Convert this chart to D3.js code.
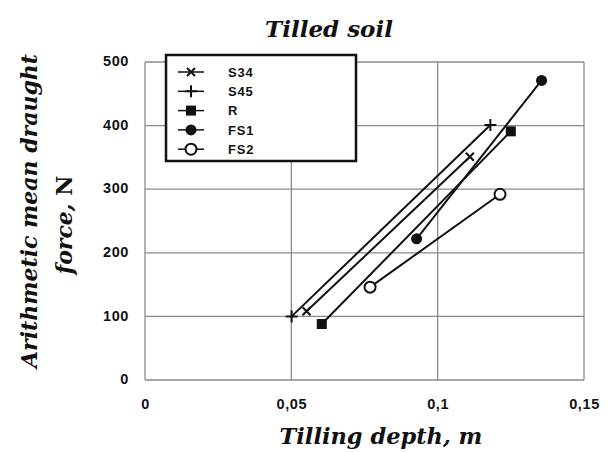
<!DOCTYPE html>
<html><head><meta charset="utf-8">
<script src="https://cdn.jsdelivr.net/npm/d3@7"></script>
<style>body{margin:0;background:#fff}svg{display:block}</style>
</head><body>
<script>
const xTicks = [0, 0.05, 0.1, 0.15];
const yTicks = [0, 100, 200, 300, 400, 500];
const seriesNames = ["S34", "S45", "R", "FS1", "FS2"];
const S34 = [[0.0552, 108], [0.111, 351]];
const S45 = [[0.0501, 100], [0.118, 401]];
const R   = [[0.0604, 88], [0.1250, 391]];
const FS1 = [[0.0928, 222], [0.1355, 471]];
const FS2 = [[0.0769, 146], [0.1213, 292]];
const seriesData = [S34, S45, R, FS1, FS2];
const symbols = ["x", "plus", "square", "dot", "ring"];

const W = 608, H = 452;
const svg = d3.select("body").append("svg").attr("width", W).attr("height", H);
const x = d3.scaleLinear().domain([0, 0.15]).range([145, 584]);
const y = d3.scaleLinear().domain([0, 500]).range([380, 62]);
const fmt = d => d === 0 ? "0" : String(d).replace(".", ",");

// grid
const g = svg.append("g");
g.selectAll("line.v").data(xTicks).join("line")
  .attr("x1", d => x(d)).attr("x2", d => x(d)).attr("y1", y(0)).attr("y2", y(500))
  .attr("stroke", "#8a8a8a").attr("stroke-width", 1.3);
g.selectAll("line.h").data(yTicks).join("line")
  .attr("y1", d => y(d)).attr("y2", d => y(d)).attr("x1", x(0)).attr("x2", x(0.15))
  .attr("stroke", "#8a8a8a").attr("stroke-width", 1.3);

// axes labels via d3 axes
const xAxis = svg.append("g").attr("transform", `translate(0,${y(0)})`)
  .call(d3.axisBottom(x).tickValues(xTicks).tickFormat(fmt).tickSize(0).tickPadding(19));
const yAxis = svg.append("g").attr("transform", `translate(${x(0)},0)`)
  .call(d3.axisLeft(y).tickValues(yTicks).tickSize(0).tickPadding(16));
[xAxis, yAxis].forEach(a => {
  a.select(".domain").remove();
  a.selectAll("text").attr("font-family", "Liberation Sans, Arial, sans-serif")
    .attr("font-weight", "bold").attr("font-size", 14.5).attr("letter-spacing", 0.6)
    .attr("fill", "#111");
});
yAxis.selectAll("g.tick text").attr("dy", "0.25em");

// lines
const line = d3.line().x(d => x(d[0])).y(d => y(d[1]));
svg.selectAll("path.series").data(seriesData).join("path")
  .attr("d", line).attr("fill", "none").attr("stroke", "#111").attr("stroke-width", 2);

function drawSymbol(sel, type, cx, cy) {
  if (type === "x") {
    sel.append("path").attr("d", `M${cx-4},${cy-4}L${cx+4},${cy+4}M${cx-4},${cy+4}L${cx+4},${cy-4}`)
      .attr("stroke", "#111").attr("stroke-width", 2);
  } else if (type === "plus") {
    sel.append("path").attr("d", `M${cx-6},${cy}L${cx+6},${cy}M${cx},${cy-6}L${cx},${cy+6}`)
      .attr("stroke", "#111").attr("stroke-width", 2);
  } else if (type === "square") {
    sel.append("rect").attr("x", cx-5).attr("y", cy-5).attr("width", 10).attr("height", 10).attr("fill", "#111");
  } else if (type === "dot") {
    sel.append("circle").attr("cx", cx).attr("cy", cy).attr("r", 5.5).attr("fill", "#111");
  } else if (type === "ring") {
    sel.append("circle").attr("cx", cx).attr("cy", cy).attr("r", 5.5).attr("fill", "#fff")
      .attr("stroke", "#111").attr("stroke-width", 2);
  }
}
seriesData.forEach((s, i) => {
  const gg = svg.append("g");
  s.forEach(p => drawSymbol(gg, symbols[i], x(p[0]), y(p[1])));
});

// legend
const lg = svg.append("g");
lg.append("rect").attr("x", 166).attr("y", 55).attr("width", 190).attr("height", 106)
  .attr("fill", "#fff").attr("stroke", "#111").attr("stroke-width", 2.5);
seriesNames.forEach((n, i) => {
  const cy = 72 + i * 19.3;
  lg.append("line").attr("x1", 178).attr("x2", 204).attr("y1", cy).attr("y2", cy)
    .attr("stroke", "#111").attr("stroke-width", 1.5);
  drawSymbol(lg, symbols[i], 191, cy);
  lg.append("text").attr("x", 228).attr("y", cy).attr("dy", "0.36em").text(n)
    .attr("font-family", "Liberation Sans, Arial, sans-serif").attr("font-weight", "bold")
    .attr("font-size", 13).attr("letter-spacing", 0.8).attr("fill", "#111");
});

// titles
const serif = "DejaVu Serif, Liberation Serif, serif";
svg.append("text").attr("x", 329).attr("y", 37).attr("text-anchor", "middle")
  .attr("font-family", serif).attr("font-style", "italic").attr("font-weight", "bold")
  .attr("font-size", 23).attr("fill", "#111").text("Tilled soil");
svg.append("text").attr("x", 381).attr("y", 444).attr("text-anchor", "middle")
  .attr("font-family", serif).attr("font-style", "italic").attr("font-weight", "bold")
  .attr("font-size", 22.5).attr("fill", "#111").text("Tilling depth, m");
const yl = svg.append("text")
  .attr("font-family", serif).attr("font-style", "italic").attr("font-weight", "bold")
  .attr("font-size", 22).attr("fill", "#111").attr("text-anchor", "middle");
yl.append("tspan").attr("x", -211).attr("y", 37).text("Arithmetic mean draught");
yl.append("tspan").attr("x", -225).attr("y", 72).text("force, ");
yl.append("tspan").attr("font-style", "normal").text("N");
yl.attr("transform", "rotate(-90)");
</script>
</body></html>
